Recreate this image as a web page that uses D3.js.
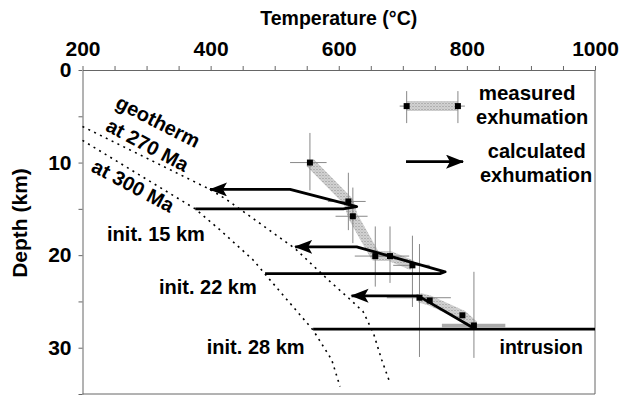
<!DOCTYPE html>
<html>
<head>
<meta charset="utf-8">
<script src="https://cdn.jsdelivr.net/npm/d3@7"></script>
<style>
body { margin: 0; background: #fff; }
text { font-family: "Liberation Sans", Arial, Helvetica, sans-serif; font-weight: bold; fill: #000; }
</style>
</head>
<body>
<script>
// axis ticks
var tempLabels = [200, 400, 600, 800, 1000];
var depthLabels = [0, 10, 20, 30];

// geotherms, [temperature, depth]
var geo270 = [[200, 6.1], [399, 12.9], [425, 14.0], [532, 19.3], [584, 22.7], [618, 24.8], [638, 26.1], [654, 28.4], [667, 31.3], [680, 33.8]];
var geo300 = [[200, 7.6], [376, 15.0], [415, 17.3], [466, 20.5], [493, 22.7], [529, 25.6], [560, 28.1], [589, 31.3], [602, 34.2]];

// calculated exhumation paths (last point = arrow tip)
var path15 = [[376, 15.0], [607, 15.0], [628, 14.75], [524, 12.9], [399, 12.9]];
var path22 = [[485, 22.0], [758, 22.0], [766, 21.8], [628, 19.1], [532, 19.1]];
var path28 = [[811, 27.9], [724, 24.4], [620, 24.4]];
var intrusion = [[560, 28.0], [1000, 28.0]];

// measured exhumation points with error ranges
var measT   = [555, 615, 622, 657, 680, 715, 726, 742, 793, 811];
var measD   = [10.0, 14.2, 15.8, 20.1, 20.1, 21.1, 24.6, 24.9, 26.5, 27.6];
var measTlo = [524, 583, 595, 625, 650, 685, 675, null, null, 761];
var measThi = [581, 642, 645, 688, 710, 742, 775, null, null, 860];
var measDlo = [6.8, 11.1, 12.7, 16.9, 16.9, 17.9, 18.8, null, null, 21.8];
var measDhi = [13.0, 17.3, 18.7, 23.4, 23.0, 25.6, 31.0, null, null, 31.1];
var bandGroups = [[0, 1, 2, 3, 4, 5], [6, 7, 8, 9]];

// legend symbols
var legendMeasured = [[706, 3.9], [786, 3.9]];
var legendArrow = [[705, 9.9], [794, 9.9]];

var margin = {top: 70, right: 27, bottom: 3, left: 82.5},
    width = 622 - margin.left - margin.right,
    height = 397 - margin.top - margin.bottom;

var root = d3.select("body")
             .append("svg")
             .attr("width", 622)
             .attr("height", 397);

var defs = root.append("defs");

// stippled grey for the measured band
var pat = defs.append("pattern")
              .attr("id", "stipple")
              .attr("patternUnits", "userSpaceOnUse")
              .attr("width", 3)
              .attr("height", 3);
pat.append("rect").attr("width", 3).attr("height", 3).attr("fill", "#d4d4d4");
pat.append("rect").attr("width", 1).attr("height", 1).attr("fill", "#8a8a8a");
pat.append("rect").attr("x", 1.5).attr("y", 1.5).attr("width", 1).attr("height", 1).attr("fill", "#a8a8a8");

defs.append("marker")
    .attr("id", "arrow")
    .attr("markerUnits", "userSpaceOnUse")
    .attr("markerWidth", 19)
    .attr("markerHeight", 15)
    .attr("refX", 17)
    .attr("refY", 7)
    .attr("orient", "auto")
    .append("path")
    .attr("d", "M0,0 L18,7 L0,14 L4,7 Z")
    .attr("fill", "#000");

var svg = root.append("g")
              .attr("transform", "translate(" + margin.left + "," + margin.top + ")");

var x = d3.scaleLinear().domain([200, 1000]).range([0, width]);
var y = d3.scaleLinear().domain([0, 35]).range([0, height]);

// axes
var xAxis = svg.append("g")
               .call(d3.axisTop(x)
                       .tickValues(d3.range(200, 1001, 50))
                       .tickSize(4)
                       .tickSizeOuter(0)
                       .tickPadding(10)
                       .tickFormat(function(d) { return tempLabels.indexOf(d) >= 0 ? d : ""; }));

var yAxis = svg.append("g")
               .call(d3.axisLeft(y)
                       .tickValues(d3.range(0, 36, 5))
                       .tickSize(4)
                       .tickSizeOuter(0)
                       .tickPadding(7)
                       .tickFormat(function(d) { return depthLabels.indexOf(d) >= 0 ? d : ""; }));

svg.selectAll(".domain, .tick line").attr("stroke", "#666");
svg.selectAll(".tick text")
   .style("font-size", "21px")
   .style("font-family", "'Liberation Sans', Arial, sans-serif")
   .style("font-weight", "bold");

// right and bottom frame
svg.append("line").attr("x1", width).attr("x2", width).attr("y1", 0).attr("y2", height).attr("stroke", "#666");
svg.append("line").attr("x1", 0).attr("x2", width).attr("y1", height).attr("y2", height).attr("stroke", "#666");

// axis titles
root.append("text")
    .attr("x", margin.left + width / 2)
    .attr("y", 25)
    .style("font-size", "19.5px")
    .style("text-anchor", "middle")
    .text("Temperature (°C)");

root.append("text")
    .attr("transform", "rotate(-90)")
    .attr("x", -223)
    .attr("y", 27)
    .style("font-size", "21px")
    .style("text-anchor", "middle")
    .text("Depth (km)");

var line = d3.line()
             .x(function(d) { return x(d[0]); })
             .y(function(d) { return y(d[1]); });

// geotherms
[geo270, geo300].forEach(function(g) {
  svg.append("path")
     .attr("d", line(g))
     .attr("fill", "none")
     .attr("stroke", "#000")
     .attr("stroke-width", 1.6)
     .attr("stroke-dasharray", "2,4.5");
});

// measured band
bandGroups.forEach(function(idx) {
  var pts = idx.map(function(i) { return [measT[i], measD[i]]; });
  svg.append("path")
     .attr("d", line(pts))
     .attr("fill", "none")
     .attr("stroke", "url(#stipple)")
     .attr("stroke-width", 10)
     .attr("stroke-linejoin", "round");
});

// error bars
measT.forEach(function(t, i) {
  if (measTlo[i] == null) return;
  svg.append("line")
     .attr("x1", x(measTlo[i])).attr("x2", x(measThi[i]))
     .attr("y1", y(measD[i])).attr("y2", y(measD[i]))
     .attr("stroke", i == measT.length - 1 ? "#aaa" : "#888")
     .attr("stroke-width", i == measT.length - 1 ? 3.5 : 1);
  svg.append("line")
     .attr("x1", x(t)).attr("x2", x(t))
     .attr("y1", y(measDlo[i])).attr("y2", y(measDhi[i]))
     .attr("stroke", "#888")
     .attr("stroke-width", 1);
});

// calculated paths
svg.append("path")
   .attr("d", line(intrusion))
   .attr("fill", "none")
   .attr("stroke", "#000")
   .attr("stroke-width", 2.8);

[path15, path22, path28].forEach(function(p) {
  svg.append("path")
     .attr("d", line(p))
     .attr("fill", "none")
     .attr("stroke", "#000")
     .attr("stroke-width", 2.8)
     .attr("stroke-linejoin", "round")
     .attr("marker-end", "url(#arrow)");
});

// measured points
svg.selectAll(".pt")
   .data(measT)
   .enter()
   .append("rect")
   .attr("class", "pt")
   .attr("x", function(d) { return x(d) - 3; })
   .attr("y", function(d, i) { return y(measD[i]) - 3; })
   .attr("width", 6)
   .attr("height", 6)
   .attr("fill", "#000");

// legend
svg.append("line")
   .attr("x1", x(legendMeasured[0][0]) - 7).attr("x2", x(legendMeasured[1][0]) + 7)
   .attr("y1", y(legendMeasured[0][1])).attr("y2", y(legendMeasured[1][1]))
   .attr("stroke", "#888");
svg.append("path")
   .attr("d", line(legendMeasured))
   .attr("stroke", "url(#stipple)")
   .attr("stroke-width", 10);
legendMeasured.forEach(function(d) {
  svg.append("line")
     .attr("x1", x(d[0])).attr("x2", x(d[0]))
     .attr("y1", y(d[1]) - 15).attr("y2", y(d[1]) + 17)
     .attr("stroke", "#888");
  svg.append("rect")
     .attr("x", x(d[0]) - 3).attr("y", y(d[1]) - 3)
     .attr("width", 6).attr("height", 6)
     .attr("fill", "#000");
});
svg.append("path")
   .attr("d", line(legendArrow))
   .attr("stroke", "#000")
   .attr("stroke-width", 2.8)
   .attr("marker-end", "url(#arrow)");

// text annotations
var ann = function(txt, t, d, anchor, size, rot) {
  var el = svg.append("text")
              .attr("x", x(t))
              .attr("y", y(d))
              .attr("dy", "0.35em")
              .style("font-size", size + "px")
              .style("text-anchor", anchor)
              .text(txt);
  if (rot) el.attr("transform", "rotate(" + rot + "," + x(t) + "," + y(d) + ")");
};

ann("measured", 894, 2.5, "middle", 20.5);
ann("exhumation", 902, 5.05, "middle", 20);
ann("calculated", 909, 8.8, "middle", 20);
ann("exhumation", 908, 11.3, "middle", 20);

ann("geotherm", 318, 5.56, "middle", 20, 27);
ann("at 270 Ma", 301.5, 8.1, "middle", 20, 28);
ann("at 300 Ma", 279, 12.5, "middle", 20, 28);

ann("init. 15 km", 391, 17.7, "end", 20);
ann("init. 22 km", 472, 23.4, "end", 20);
ann("init. 28 km", 394, 29.9, "start", 20);
ann("intrusion", 916, 29.9, "middle", 19.5);
</script>
</body>
</html>
